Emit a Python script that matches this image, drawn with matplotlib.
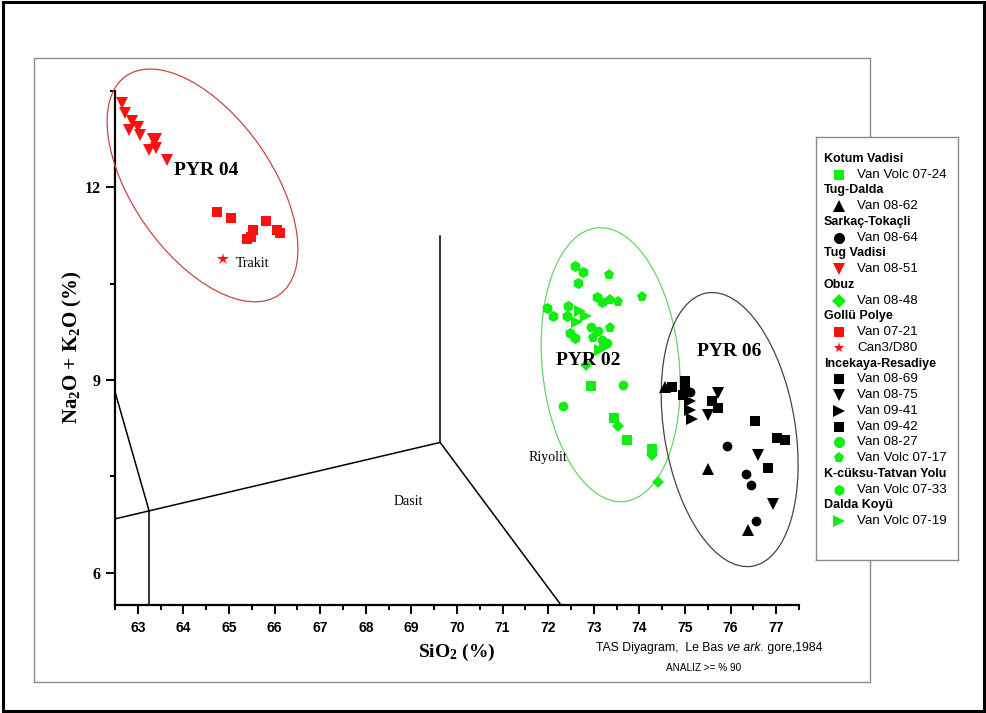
import matplotlib
matplotlib.use("Agg")
import matplotlib.pyplot as plt
from matplotlib.patches import Ellipse, Rectangle
from matplotlib.transforms import ScaledTranslation

plt.rcParams["mathtext.default"] = "regular"

SANS = "Liberation Sans"
SERIF = "Liberation Serif"

# ---------------- sample data (SiO2 %, Na2O+K2O %) ----------------
# Gollu Polye / Tug Vadisi (PYR 04)
van_08_51_x = [62.65, 62.72, 62.88, 63.00, 62.81, 63.05, 63.34, 63.41, 63.25, 63.40, 63.63]
van_08_51_y = [13.32, 13.15, 13.04, 12.94, 12.89, 12.82, 12.76, 12.75, 12.58, 12.61, 12.43]
van_07_21_x = [64.73, 65.04, 65.81, 65.53, 65.39, 65.48, 66.05, 66.12]
van_07_21_y = [11.62, 11.52, 11.48, 11.33, 11.19, 11.23, 11.33, 11.29]
can3_d80_x = [64.86]
can3_d80_y = [10.89]

# PYR 02 (green samples)
volc_07_33_x = [72.59, 72.77, 72.66, 71.97, 72.11, 72.44, 72.41, 72.48, 72.59, 73.06, 73.17]
volc_07_33_y = [10.78, 10.69, 10.51, 10.12, 9.99, 10.15, 9.99, 9.73, 9.65, 10.30, 10.22]
volc_07_17_x = [73.34, 74.05, 73.36, 73.54, 73.36, 72.99]
volc_07_17_y = [10.64, 10.30, 10.25, 10.22, 9.81, 9.65]
volc_07_19_x = [72.70, 72.84, 72.63, 73.14, 73.25]
volc_07_19_y = [10.07, 9.99, 9.91, 9.47, 9.52]
volc_07_24_x = [72.95, 73.72, 74.27, 73.45]
volc_07_24_y = [8.91, 8.07, 7.93, 8.41]
van_08_27_x = [73.65, 72.32, 72.95, 73.10, 73.17, 73.28]
van_08_27_y = [8.93, 8.59, 9.83, 9.76, 9.63, 9.58]
van_08_48_x = [74.41, 74.27, 73.54, 72.84]
van_08_48_y = [7.42, 7.84, 8.29, 9.24]

# PYR 06 (black samples)
van_08_62_x = [74.56, 75.51, 76.39]
van_08_62_y = [8.90, 7.61, 6.67]
van_08_64_x = [75.11, 75.93, 76.34, 76.45, 76.56]
van_08_64_y = [8.82, 7.97, 7.54, 7.36, 6.81]
van_08_69_x = [74.71, 75.00, 75.00, 74.96]
van_08_69_y = [8.89, 8.98, 8.88, 8.77]
van_09_42_x = [75.59, 75.73, 76.54, 77.01, 77.19, 76.81]
van_09_42_y = [8.67, 8.57, 8.36, 8.10, 8.07, 7.63]
van_08_75_x = [75.73, 75.51, 76.61, 76.92]
van_08_75_y = [8.80, 8.46, 7.84, 7.07]
van_09_41_x = [75.11, 75.11, 75.15]
van_09_41_y = [8.67, 8.54, 8.39]

# TAS field boundaries (Le Bas et al., 1986, as drawn)
tas_lines = [
    ([62.5, 63.25], [8.82, 6.96]),
    ([63.25, 63.25], [6.96, 5.5]),
    ([62.5, 69.63], [6.84, 8.03]),
    ([69.63, 69.63], [8.03, 11.25]),
    ([69.63, 72.28], [8.03, 5.5]),
]
field_names = ["Trakit", "Riyolit", "Dasit"]
field_pos = [(65.15, 10.81), (71.56, 7.79), (68.60, 7.11)]

group_names = ["PYR 04", "PYR 02", "PYR 06"]
group_pos = [(63.79, 12.27), (72.17, 9.30), (75.26, 9.44)]
# envelope centres (data) and sizes in inches, tilt in degrees
group_center = [(64.42, 12.03), (73.37, 9.24), (75.98, 8.23)]
group_size = [(2.67, 1.39), (2.75, 1.37), (2.77, 1.31)]
group_angle = [-55.0, -84.4, -80.6]
group_color = ["#cc4444", "#66d466", "#444444"]

x_ticks = list(range(63, 78))
y_ticks = [6, 9, 12]

RED = "#ff1010"
GREEN = "#12ee12"
BLACK = "#000000"

W_PX, H_PX = 987, 713
fig = plt.figure(figsize=(W_PX / 100, H_PX / 100), dpi=100)

# frames around the sheet
fig.patches.append(Rectangle((0.003, 0.003), 0.994, 0.994, transform=fig.transFigure,
                             fill=False, edgecolor="black", linewidth=2.2, zorder=0))
fig.patches.append(Rectangle((0.0344, 0.0435), 0.8471, 0.8752, transform=fig.transFigure,
                             fill=False, edgecolor="#8a8a8a", linewidth=1.0, zorder=0))

ax = fig.add_axes([0.1165, 0.1515, 0.693, 0.7209])
ax.set_facecolor("none")
ax.set_zorder(2)
ax.set_xlim(62.5, 77.5)
ax.set_ylim(5.5, 13.5)

for xs, ys in tas_lines:
    ax.plot(xs, ys, color="black", lw=1.1, zorder=2)

for (name, (tx, ty)) in zip(field_names, field_pos):
    ax.text(tx, ty, name, family=SERIF, fontsize=10, ha="left", va="center", zorder=5)

for c, s, a, col in zip(group_center, group_size, group_angle, group_color):
    tr = fig.dpi_scale_trans + ScaledTranslation(c[0], c[1], ax.transData)
    ax.add_patch(Ellipse((0, 0), s[0], s[1], angle=a, transform=tr, clip_on=False,
                         fill=False, edgecolor=col, lw=0.9, zorder=3))

series = [
    (van_08_51_x, van_08_51_y, "v", RED, 8),
    (van_07_21_x, van_07_21_y, "s", RED, 7),
    (can3_d80_x, can3_d80_y, "*", RED, 9),
    (volc_07_33_x, volc_07_33_y, "h", GREEN, 8),
    (volc_07_17_x, volc_07_17_y, "p", GREEN, 8),
    (volc_07_19_x, volc_07_19_y, ">", GREEN, 8),
    (volc_07_24_x, volc_07_24_y, "s", GREEN, 6.5),
    (van_08_27_x, van_08_27_y, "o", GREEN, 7),
    (van_08_48_x, van_08_48_y, "D", GREEN, 6.5),
    (van_08_62_x, van_08_62_y, "^", BLACK, 8),
    (van_08_64_x, van_08_64_y, "o", BLACK, 7),
    (van_08_69_x, van_08_69_y, "s", BLACK, 6.5),
    (van_09_42_x, van_09_42_y, "s", BLACK, 6.5),
    (van_08_75_x, van_08_75_y, "v", BLACK, 8),
    (van_09_41_x, van_09_41_y, ">", BLACK, 8),
]
for xs, ys, m, col, ms in series:
    ax.plot(xs, ys, linestyle="none", marker=m, color=col, markersize=ms,
            markeredgewidth=0, zorder=4, clip_on=False)

for name, (tx, ty) in zip(group_names, group_pos):
    ax.text(tx, ty, name, family=SERIF, fontsize=14, fontweight="bold",
            ha="left", va="center", zorder=6)

# axes styling
for side in ("top", "right"):
    ax.spines[side].set_visible(False)
for side in ("left", "bottom"):
    ax.spines[side].set_linewidth(1.6)
ax.set_xticks(x_ticks)
ax.set_xticks([t + 0.5 for t in range(62, 78)], minor=True)
ax.set_yticks(y_ticks)
ax.set_yticks([7.5, 10.5, 13.5], minor=True)
ax.tick_params(which="major", direction="out", length=6.5, width=1.4)
ax.tick_params(which="minor", direction="out", length=3.5, width=1.4)
ax.tick_params(axis="x", which="major", pad=5)
ax.tick_params(axis="y", which="major", pad=4)
for lab in ax.get_xticklabels():
    lab.set_family(SANS)
    lab.set_fontweight("bold")
    lab.set_fontsize(10)
for lab in ax.get_yticklabels():
    lab.set_family(SERIF)
    lab.set_fontweight("bold")
    lab.set_fontsize(11.5)

fig.text(457 / W_PX, 1 - 652 / H_PX, "SiO$_2$ (%)", family=SERIF, fontweight="bold",
         fontsize=14, ha="center", va="center")
fig.text(72 / W_PX, 1 - 347 / H_PX, "Na$_2$O + K$_2$O (%)", family=SERIF, fontweight="bold",
         fontsize=15, ha="center", va="center", rotation=90)

# citation line, with italic part: pieces share one baseline
cite_y = 1 - 651 / H_PX
pieces = [("TAS Diyagram,  Le Bas ", "normal"), ("ve ark.", "italic"), (" gore,1984", "normal")]
cursor = 596
for txt, st in pieces:
    t = fig.text(cursor / W_PX, cite_y, txt, family=SANS, style=st, fontsize=8.8,
                 ha="left", va="baseline")
    fig.canvas.draw()
    cursor = t.get_window_extent().x1
fig.text(666 / W_PX, 1 - 668 / H_PX, "ANALIZ >= % 90", family=SANS, fontsize=7.2,
         ha="left", va="center")

# ---------------- legend panel ----------------
legend_rows = [
    ("Kotum Vadisi", None, None),
    ("Van Volc 07-24", "s", GREEN),
    ("Tug-Dalda", None, None),
    ("Van 08-62", "^", BLACK),
    ("Sarkaç-Tokaçli", None, None),
    ("Van 08-64", "o", BLACK),
    ("Tug Vadisi", None, None),
    ("Van 08-51", "v", RED),
    ("Obuz", None, None),
    ("Van 08-48", "D", GREEN),
    ("Gollü Polye", None, None),
    ("Van 07-21", "s", RED),
    ("Can3/D80", "*", RED),
    ("Incekaya-Resadiye", None, None),
    ("Van 08-69", "s", BLACK),
    ("Van 08-75", "v", BLACK),
    ("Van 09-41", ">", BLACK),
    ("Van 09-42", "s", BLACK),
    ("Van 08-27", "o", GREEN),
    ("Van Volc 07-17", "p", GREEN),
    ("K-cüksu-Tatvan Yolu", None, None),
    ("Van Volc 07-33", "h", GREEN),
    ("Dalda Koyü", None, None),
    ("Van Volc 07-19", ">", GREEN),
]
lax = fig.add_axes([816 / W_PX, 1 - 560 / H_PX, 142 / W_PX, 423 / H_PX])
lax.set_zorder(5)
lax.set_facecolor("white")
lax.set_xlim(0, 142)
lax.set_ylim(423, 0)
lax.set_xticks([])
lax.set_yticks([])
for sp in lax.spines.values():
    sp.set_edgecolor("#8a8a8a")
    sp.set_linewidth(1.0)
row_h = 15.74
for i, (label, m, col) in enumerate(legend_rows):
    yy = 22 + i * row_h
    if m is None:
        lax.text(8, yy, label, family=SANS, fontweight="bold", fontsize=9,
                 ha="left", va="center")
    else:
        lax.plot([23], [yy], marker=m, color=col, markersize=8 if m not in ("s", "D") else 7,
                 markeredgewidth=0, linestyle="none")
        lax.text(41.5, yy, label, family=SANS, fontsize=9.6, ha="left", va="center")

fig.savefig("out.png", dpi=100)
